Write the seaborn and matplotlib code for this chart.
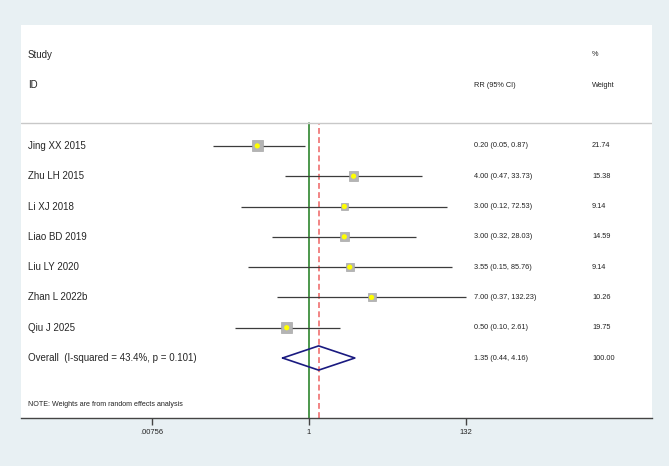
import numpy as np
import matplotlib
matplotlib.use("Agg")
import matplotlib.pyplot as plt
import seaborn as sns
import pandas as pd

studies = ["Jing XX 2015", "Zhu LH 2015", "Li XJ 2018", "Liao BD 2019",
           "Liu LY 2020", "Zhan L 2022b", "Qiu J 2025"]
rr = [0.20, 4.00, 3.00, 3.00, 3.55, 7.00, 0.50]
lower = [0.05, 0.47, 0.12, 0.32, 0.15, 0.37, 0.10]
upper = [0.87, 33.73, 72.53, 28.03, 85.76, 132.23, 2.61]
weights = [21.74, 15.38, 9.14, 14.59, 9.14, 10.26, 19.75]

overall_label = "Overall  (I-squared = 43.4%, p = 0.101)"
overall_rr = 1.35
overall_lo = 0.44
overall_hi = 4.16
overall_w = 100.00

xticks = [0.00756, 1, 132]
xticklabels = [".00756", "1", "132"]

df = pd.DataFrame({"study": studies, "rr": rr, "lo": lower, "hi": upper,
                   "w": weights, "row": np.arange(len(studies))})
overall_row = len(studies)

sns.set_style("white")
plt.rcParams["font.family"] = ["Liberation Sans", "DejaVu Sans"]

bg = "#e8f0f3"
fig = plt.figure(figsize=(6.69, 4.66), dpi=100, facecolor=bg)
ax = fig.add_axes([21 / 669, 48 / 466, 631 / 669, 393 / 466])
ax.set_facecolor("white")

# log x axis centred on 1
ax.set_xscale("log")
ax.set_xlim(np.exp(-288 / 32.15), np.exp(343 / 32.15))
ax.set_ylim(8.98, -3.99)

# CI lines
ax.hlines(df["row"], df["lo"], df["hi"], color="#3c3c3c", lw=0.9, zorder=2)

# weight boxes + point estimates
sns.scatterplot(data=df, x="rr", y="row", size="w", sizes=(30, 65),
                marker="s", color="#b4b4b4", edgecolor="#a0a0a0",
                legend=False, ax=ax, zorder=3)
sns.scatterplot(data=df, x="rr", y="row", marker="o", s=14,
                color="#ffff00", edgecolor="none", legend=False, ax=ax, zorder=4)

# null line and overall line
top_frac = (8.98 + 0.75) / (8.98 + 3.99)
ax.axvline(1, ymin=0, ymax=top_frac, color="#1b7a1b", lw=1.1, zorder=1)
ax.axvline(overall_rr, ymin=0, ymax=top_frac,
           color="#f07070", lw=1.2, ls=(0, (3.5, 2)), zorder=1)

# diamond
dx = [overall_lo, overall_rr, overall_hi, overall_rr, overall_lo]
dy = [overall_row, overall_row - 0.4, overall_row, overall_row + 0.4, overall_row]
ax.plot(dx, dy, color="#1a1a80", lw=1.2, zorder=5)

# header separator
ax.axhline(-0.75, color="#c8c8c8", lw=1.0)

tr = ax.get_yaxis_transform()
x_lab = 7 / 631
x_rr = 453 / 631
x_w = 571 / 631
fs_main = 7
fs_small = 5.3

ax.text(x_lab, -3, "Study", transform=tr, fontsize=fs_main, va="center")
ax.text(x_lab, -2, "ID", transform=tr, fontsize=fs_main, va="center")
ax.text(x_rr, -2, "RR (95% CI)", transform=tr, fontsize=fs_small, va="center", color="#222222")
ax.text(x_w, -3, "%", transform=tr, fontsize=fs_small, va="center", color="#222222")
ax.text(x_w, -2, "Weight", transform=tr, fontsize=fs_small, va="center", color="#222222")

for i, r in df.iterrows():
    ax.text(x_lab, r["row"], r["study"], transform=tr, fontsize=fs_main, va="center")
    ax.text(x_rr, r["row"], f"{r['rr']:.2f} ({r['lo']:.2f}, {r['hi']:.2f})",
            transform=tr, fontsize=fs_small, va="center", color="#222222")
    ax.text(x_w, r["row"], f"{r['w']:.2f}", transform=tr, fontsize=fs_small,
            va="center", color="#222222")

ax.text(x_lab, overall_row, overall_label, transform=tr, fontsize=fs_main, va="center")
ax.text(x_rr, overall_row, f"{overall_rr:.2f} ({overall_lo:.2f}, {overall_hi:.2f})",
        transform=tr, fontsize=fs_small, va="center", color="#222222")
ax.text(x_w, overall_row, f"{overall_w:.2f}", transform=tr, fontsize=fs_small,
        va="center", color="#222222")
ax.text(x_lab, 8.55, "NOTE: Weights are from random effects analysis",
        transform=tr, fontsize=5.1, va="center", color="#222222")

# axes styling
for s in ["top", "left", "right"]:
    ax.spines[s].set_visible(False)
ax.spines["bottom"].set_color("#444444")
ax.spines["bottom"].set_linewidth(1.0)
ax.set_yticks([])
ax.set_xticks(xticks)
ax.set_xticklabels(xticklabels, fontsize=5.5, color="#222222")
ax.minorticks_off()
ax.tick_params(axis="x", bottom=True, length=5, width=1, color="#444444", pad=3)
ax.set_xlabel("")
ax.set_ylabel("")

fig.savefig("out.png", dpi=100, facecolor=bg)
